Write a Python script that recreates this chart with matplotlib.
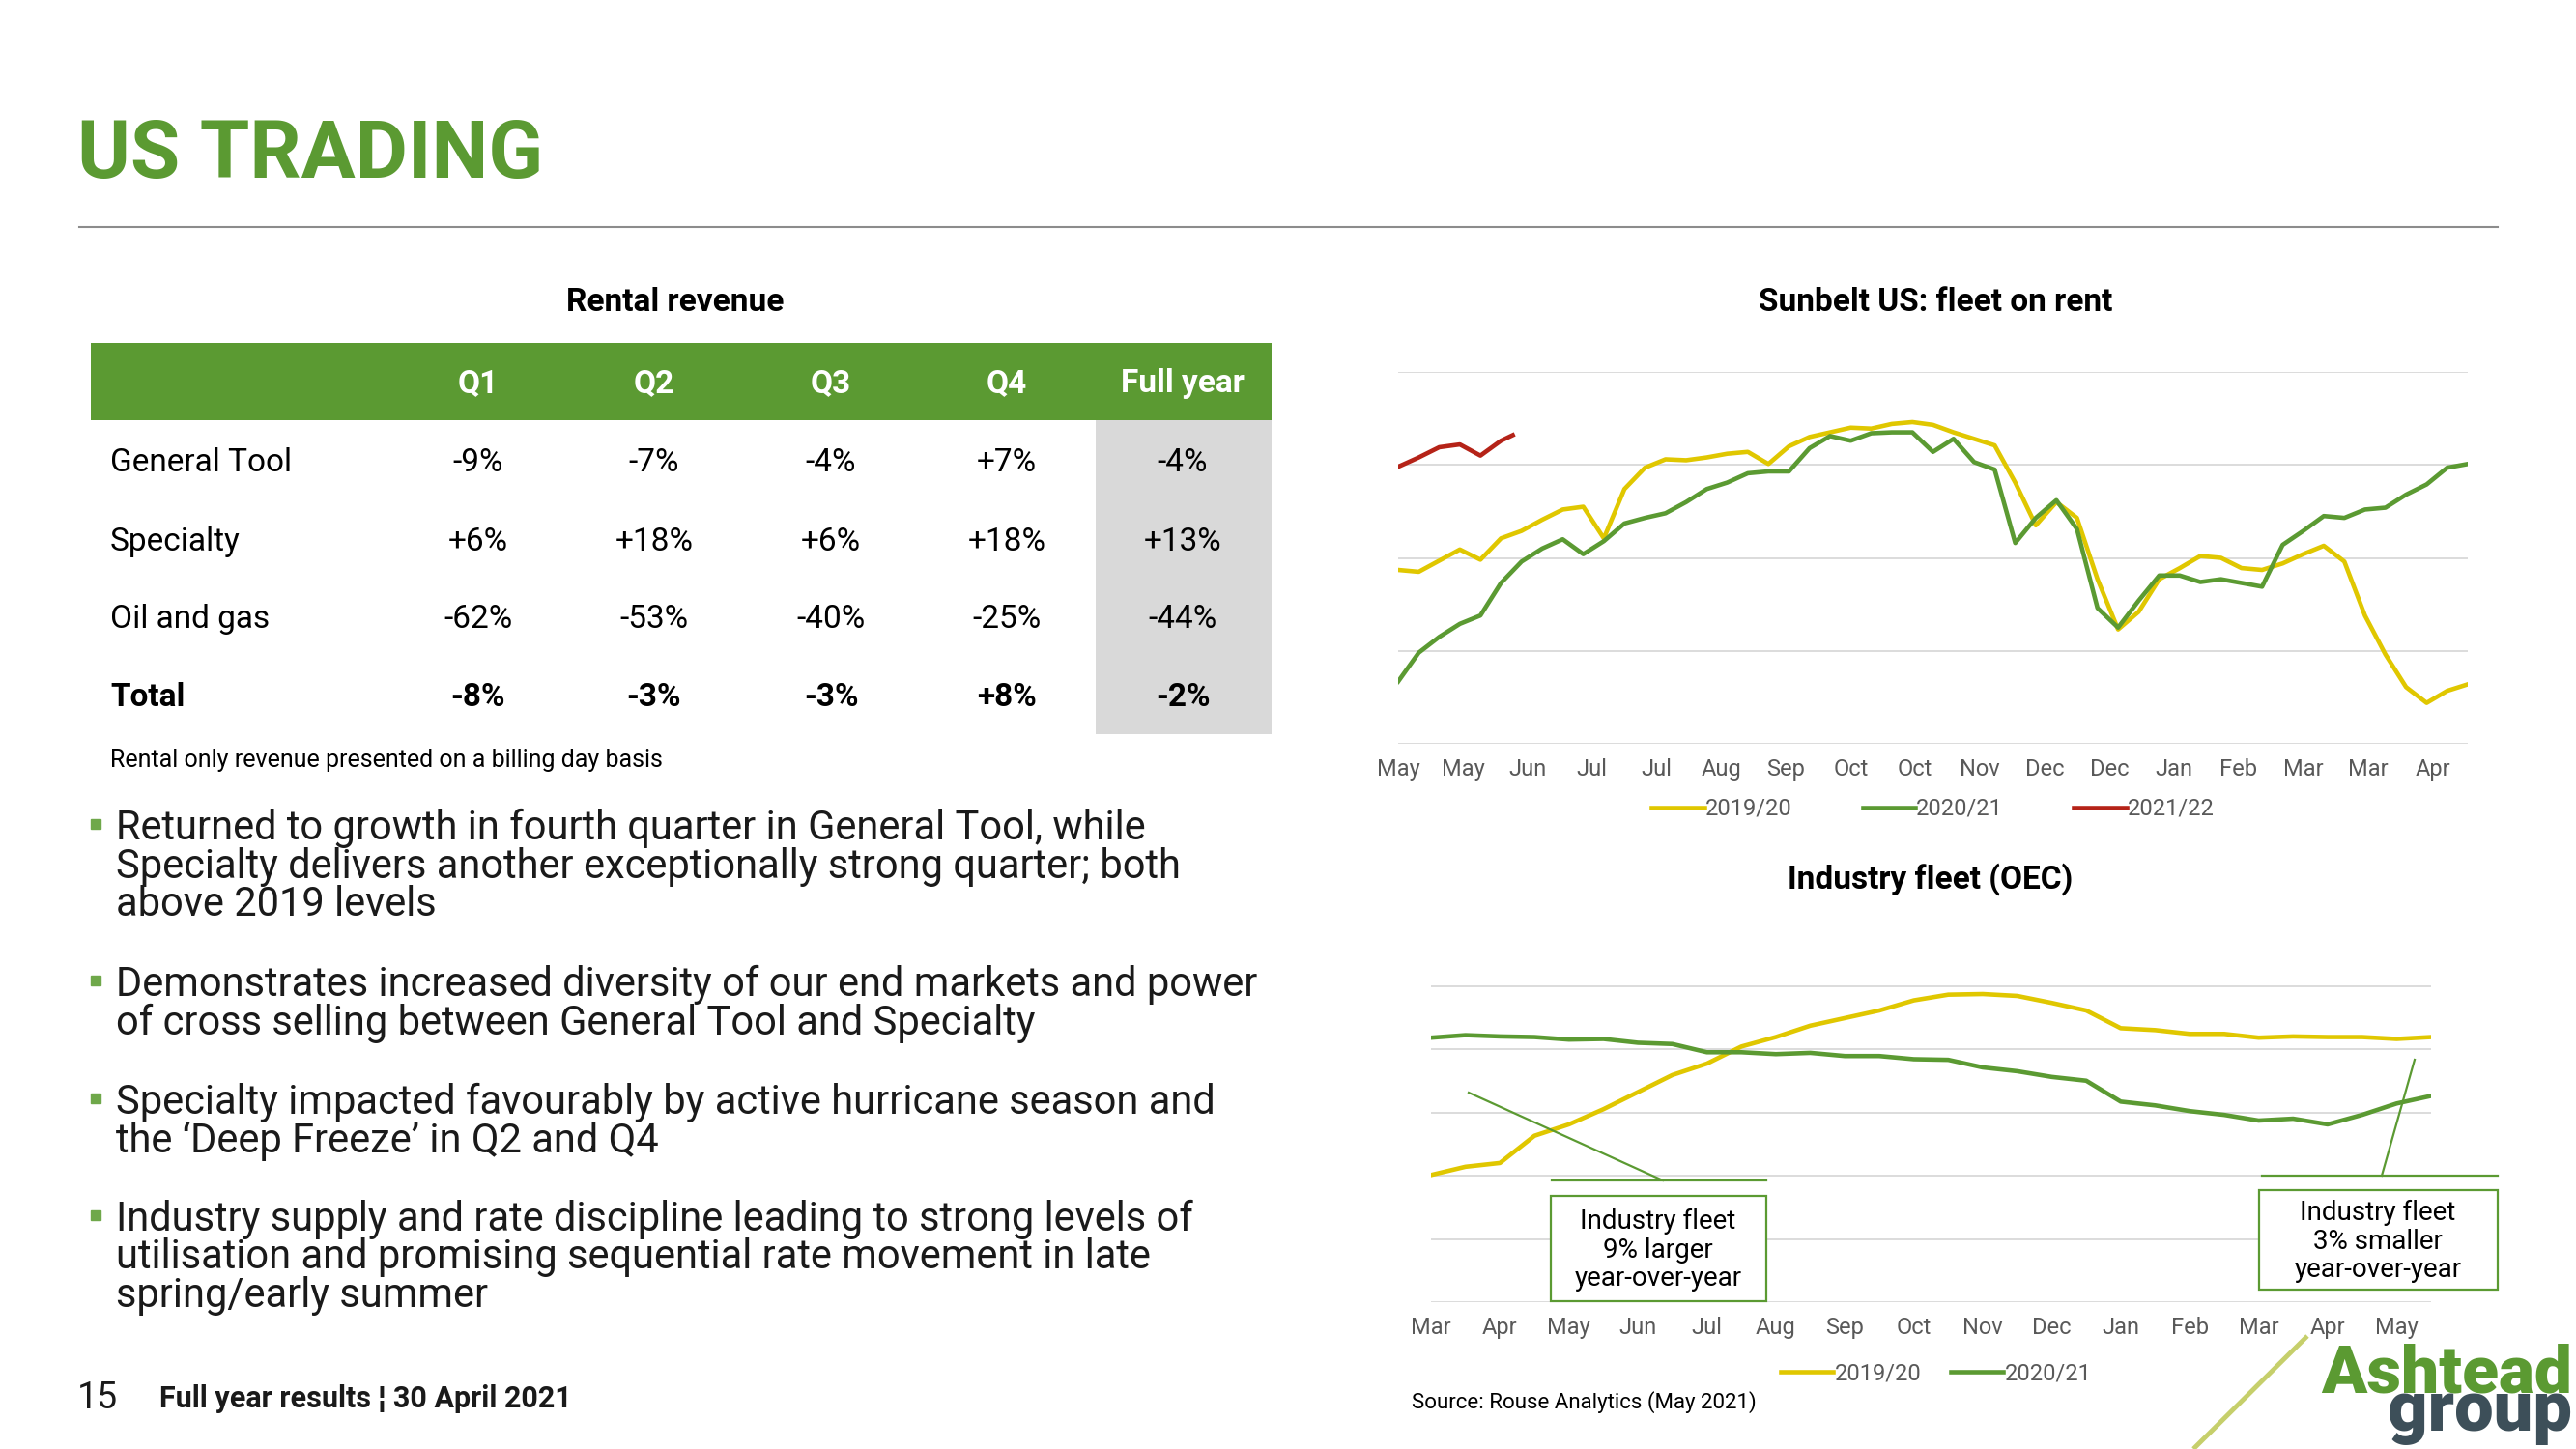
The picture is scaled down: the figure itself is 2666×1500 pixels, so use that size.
import numpy as np
import matplotlib.pyplot as plt

plt.rcParams['font.family'] = ['Roboto', 'DejaVu Sans']

GREEN = '#5B9A32'
YELLOW = '#E0C700'
RED = '#B52318'
TICK = '#595959'
GRID = '#D9D9D9'

# rental revenue table
quarters = ['Q1', 'Q2', 'Q3', 'Q4', 'Full year']
segments = ['General Tool', 'Specialty', 'Oil and gas', 'Total']
growth = [['-9%', '-7%', '-4%', '+7%', '-4%'],
          ['+6%', '+18%', '+6%', '+18%', '+13%'],
          ['-62%', '-53%', '-40%', '-25%', '-44%'],
          ['-8%', '-3%', '-3%', '+8%', '-2%']]

bullets = [
    ['Returned to growth in fourth quarter in General Tool, while',
     'Specialty delivers another exceptionally strong quarter; both',
     'above 2019 levels'],
    ['Demonstrates increased diversity of our end markets and power',
     'of cross selling between General Tool and Specialty'],
    ['Specialty impacted favourably by active hurricane season and',
     'the \u2018Deep Freeze\u2019 in Q2 and Q4'],
    ['Industry supply and rate discipline leading to strong levels of',
     'utilisation and promising sequential rate movement in late',
     'spring/early summer'],
]

# Sunbelt US fleet on rent, weekly readings (day of year from 1 May)
rent_days = np.arange(53) * 7
rent_1920 = [1.87, 1.85, 1.97, 2.09, 1.98, 2.21, 2.29, 2.41, 2.52, 2.55,
             2.21, 2.74, 2.97, 3.06, 3.05, 3.08, 3.12, 3.14, 3.01, 3.20,
             3.30, 3.35, 3.40, 3.39, 3.44, 3.46, 3.43, 3.35, 3.28, 3.21,
             2.81, 2.35, 2.60, 2.43, 1.77, 1.23, 1.42, 1.77, 1.89, 2.02,
             2.00, 1.89, 1.87, 1.94, 2.04, 2.13, 1.96, 1.38, 0.96, 0.61,
             0.44, 0.57, 0.64]
rent_2021 = [0.67, 0.98, 1.15, 1.29, 1.38, 1.73, 1.96, 2.10, 2.20, 2.04,
             2.18, 2.37, 2.43, 2.48, 2.60, 2.74, 2.81, 2.91, 2.93, 2.93,
             3.18, 3.31, 3.26, 3.34, 3.35, 3.35, 3.14, 3.28, 3.03, 2.95,
             2.16, 2.43, 2.62, 2.31, 1.46, 1.25, 1.54, 1.81, 1.81, 1.74,
             1.77, 1.73, 1.69, 2.14, 2.29, 2.45, 2.43, 2.52, 2.54, 2.68,
             2.79, 2.97, 3.01]
rent_days_2122 = [0, 7, 14, 21, 28, 35, 39]
rent_2122 = [2.98, 3.08, 3.19, 3.22, 3.10, 3.26, 3.32]
rent_ticks = ['May', 'May', 'Jun', 'Jul', 'Jul', 'Aug', 'Sep', 'Oct', 'Oct',
              'Nov', 'Dec', 'Dec', 'Jan', 'Feb', 'Mar', 'Mar', 'Apr']

# Industry fleet (OEC), half-monthly readings from 1 March
oec_months = np.arange(30) * 0.5
oec_1920 = [2.01, 2.14, 2.20, 2.63, 2.81, 3.05, 3.32, 3.59, 3.77, 4.04,
            4.19, 4.37, 4.49, 4.61, 4.77, 4.86, 4.87, 4.84, 4.73, 4.61,
            4.33, 4.30, 4.24, 4.24, 4.18, 4.20, 4.19, 4.19, 4.16, 4.19]
oec_2021 = [4.18, 4.22, 4.20, 4.19, 4.15, 4.16, 4.10, 4.08, 3.95, 3.95,
            3.92, 3.94, 3.89, 3.89, 3.84, 3.83, 3.71, 3.65, 3.56, 3.50,
            3.17, 3.11, 3.02, 2.96, 2.87, 2.90, 2.81, 2.96, 3.14, 3.26]
oec_ticks = ['Mar', 'Apr', 'May', 'Jun', 'Jul', 'Aug', 'Sep', 'Oct', 'Nov',
             'Dec', 'Jan', 'Feb', 'Mar', 'Apr', 'May']

W, H = 2666, 1500
fig = plt.figure(figsize=(W / 100, H / 100), dpi=100)


def style_chart(ax, ymax):
    ax.set_facecolor('none')
    ax.set_ylim(0, ymax)
    ax.set_yticks(np.arange(ymax + 1))
    ax.set_yticklabels([])
    ax.grid(axis='y', color=GRID, lw=1.3)
    ax.set_axisbelow(True)
    for s in ax.spines.values():
        s.set_visible(False)
    ax.tick_params(axis='both', length=0, labelsize=17, labelcolor=TICK, pad=11)


# top chart: fleet on rent
ax1 = fig.add_axes([1447 / W, 1 - 770 / H, (2554 - 1447) / W, (770 - 385) / H])
style_chart(ax1, 4)
ax1.plot(rent_days, rent_1920, color=YELLOW, lw=3.3, label='2019/20')
ax1.plot(rent_days, rent_2021, color=GREEN, lw=3.3, label='2020/21')
ax1.plot(rent_days_2122, rent_2122, color=RED, lw=3.3, label='2021/22')
ax1.set_xlim(0, 364)
ax1.set_xticks(np.arange(len(rent_ticks)) * 22)
ax1.set_xticklabels(rent_ticks)
ax1.legend(loc='upper center', bbox_to_anchor=(0.5, -0.09), ncol=3, frameon=False,
           fontsize=17, labelcolor=TICK, handlelength=2.3, handletextpad=0.05,
           columnspacing=3.1)

# bottom chart: industry fleet
ax2 = fig.add_axes([1481 / W, 1 - 1348 / H, (2516 - 1481) / W, (1348 - 955) / H])
style_chart(ax2, 6)
ax2.plot(oec_months, oec_1920, color=YELLOW, lw=3.3, label='2019/20')
ax2.plot(oec_months, oec_2021, color=GREEN, lw=3.3, label='2020/21')
ax2.set_xlim(0, 14.5)
ax2.set_xticks(np.arange(len(oec_ticks)))
ax2.set_xticklabels(oec_ticks)
ax2.legend(loc='upper center', bbox_to_anchor=(0.505, -0.105), ncol=2, frameon=False,
           fontsize=17, labelcolor=TICK, handlelength=2.3, handletextpad=0.05,
           columnspacing=1.3)

# page overlay in pixel coordinates
ax0 = fig.add_axes([0, 0, 1, 1], facecolor='none')
ax0.set_xlim(0, W)
ax0.set_ylim(H, 0)
ax0.axis('off')

ax0.text(80, 184, 'US TRADING', color=GREEN, fontsize=60, fontweight='bold',
         va='baseline')
ax0.plot([82, 2585], [235, 235], color='#8C8C8C', lw=1.5)

# table
ax0.text(699, 313, 'Rental revenue', fontsize=24, fontweight='bold', ha='center',
         va='center')
ax0.add_patch(plt.Rectangle((94, 355), 1316 - 94, 80, color=GREEN, lw=0))
ax0.add_patch(plt.Rectangle((1134, 435), 1316 - 1134, 325, color='#D9D9D9', lw=0))
col_x = [495, 677, 860, 1042, 1224]
row_y = [479, 561, 641, 722]
for q, cx in zip(quarters, col_x):
    ax0.text(cx, 397, q, color='white', fontsize=24, fontweight='bold',
             ha='center', va='center')
for i, (seg, ry) in enumerate(zip(segments, row_y)):
    fw = 'bold' if seg == 'Total' else 'normal'
    ax0.text(114, ry, seg, fontsize=24, fontweight=fw, va='center')
    for val, cx in zip(growth[i], col_x):
        ax0.text(cx, ry, val, fontsize=24, fontweight=fw, ha='center', va='center')
ax0.text(114, 787, 'Rental only revenue presented on a billing day basis',
         fontsize=18, va='center')

# bullets
bullet_y = [857, 1019, 1141, 1262]
for lines, by in zip(bullets, bullet_y):
    ax0.plot(99, by - 4, marker='s', color='#6FA84A', markersize=7)
    for j, ln in enumerate(lines):
        ax0.text(120, by + j * 40, ln, fontsize=30, va='center', color='#1A1A1A')

# chart titles
ax0.text(2003, 313, 'Sunbelt US: fleet on rent', fontsize=24, fontweight='bold',
         ha='center', va='center')
ax0.text(1998, 910, 'Industry fleet (OEC)', fontsize=24, fontweight='bold',
         ha='center', va='center')

# callouts
ax0.plot([1520, 1721], [1131, 1222], color=GREEN, lw=1.6)
ax0.plot([1606, 1828], [1222, 1222], color=GREEN, lw=1.6)
ax0.add_patch(plt.Rectangle((1605, 1238), 223, 109, facecolor='white',
                            edgecolor=GREEN, lw=1.6))
ax0.text(1716, 1294, 'Industry fleet\n9% larger\nyear-over-year', fontsize=20,
         ha='center', va='center', linespacing=1.12)
ax0.plot([2499, 2465], [1097, 1217], color=GREEN, lw=1.6)
ax0.plot([2341, 2585], [1217, 1217], color=GREEN, lw=1.6)
ax0.add_patch(plt.Rectangle((2338, 1232), 247, 103, facecolor='white',
                            edgecolor=GREEN, lw=1.6))
ax0.text(2461, 1285, 'Industry fleet\n3% smaller\nyear-over-year', fontsize=20,
         ha='center', va='center', linespacing=1.12)

ax0.text(1461, 1452, 'Source: Rouse Analytics (May 2021)', fontsize=16,
         va='center')

# footer
ax0.text(80, 1458, '15', fontsize=27, va='baseline', color='#1A1A1A')
ax0.text(165, 1457, 'Full year results \u00a6 30 April 2021', fontsize=22,
         fontweight='bold', va='baseline', color='#1A1A1A')

# logo
ax0.plot([2388, 2270], [1383, 1500], color='#C6CF6B', lw=3.5, solid_capstyle='butt')
ax0.text(2662, 1442, 'Ashtead', color=GREEN, fontsize=50, fontweight='black',
         ha='right', va='baseline')
ax0.text(2662, 1481, 'group', color='#3D4F59', fontsize=52, fontweight='black',
         ha='right', va='baseline')

fig.savefig('out.png', dpi=100)
